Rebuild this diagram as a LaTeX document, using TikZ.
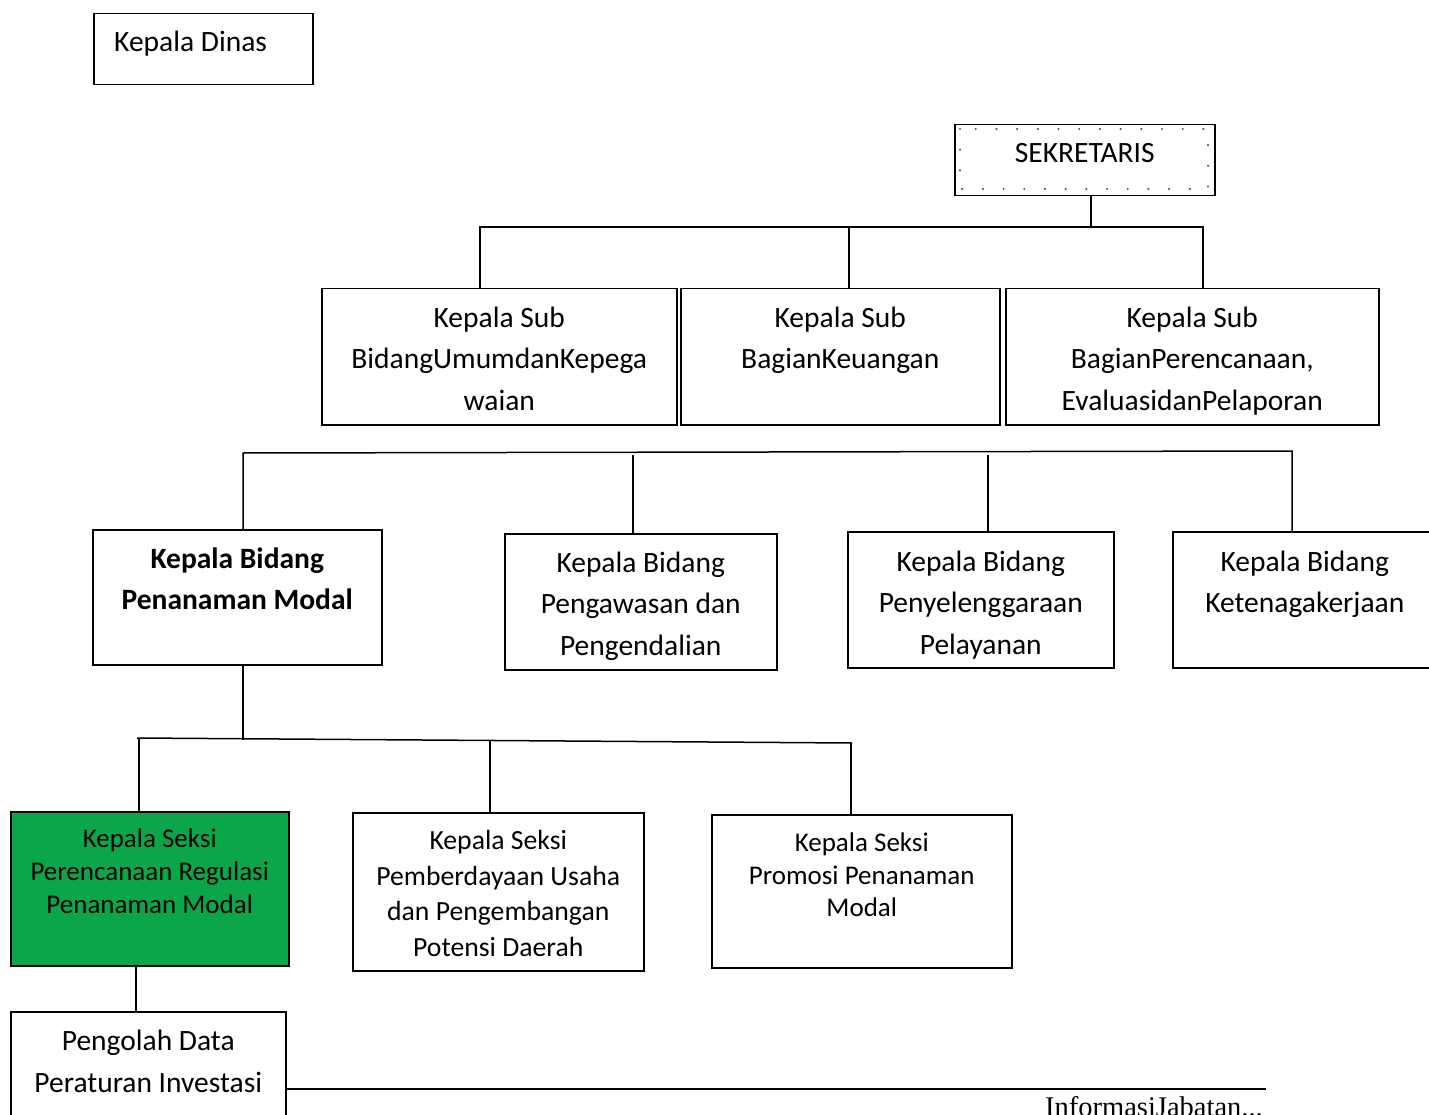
\documentclass[tikz,border=0pt]{standalone}
\usepackage{fontspec}
\setmainfont{Carlito}
\newfontfamily\jabfont{Liberation Serif}
\usetikzlibrary{positioning,calc}
\definecolor{seksigreen}{RGB}{12,166,74}

\tikzset{
  box/.style={rectangle, draw, line width=1.5pt, anchor=north west, inner sep=0pt},
  txt/.style={anchor=base, align=center, inner sep=0pt, font=\fontsize{29.5}{41.5}\selectfont},
  txtsmall/.style={txt, font=\fontsize{27}{33}\selectfont},
  conn/.style={line width=1.5pt}
}

\begin{document}
\begin{tikzpicture}[x=1pt, y=-1pt]
\useasboundingbox (0,0) rectangle (1429,1115);
\clip (0,0) rectangle (1429,1115);

% top
\node[box, minimum width=219pt, minimum height=71pt] (dinas) at (93,13) {};
\node[txt, anchor=base west] (dinastxt) at (114,52) {Kepala Dinas};

\node[box, minimum width=260pt, minimum height=71pt] (sek) at (954,124) {};
\draw[line width=2.4pt, line cap=round, black!65, dash pattern=on 0pt off 20.7pt]
  (960,129) rectangle (1208,189);
\node[txt] (sektxt) at ([yshift=-39pt]sek.north) {SEKRETARIS};

% sub bagian
\node[box, minimum width=355pt, minimum height=136pt] (subA) at (321,288) {};
\node[box, minimum width=319pt, minimum height=136pt] (subB) at (680,288) {};
\node[box, minimum width=373pt, minimum height=136pt] (subC) at (1005,288) {};
\node[txt] (subAtxt) at ([yshift=-122pt]subA.north) {Kepala Sub\\BidangUmumdanKepega\\waian};
\node[txt] (subBtxt) at ([yshift=-80.5pt]subB.north) {Kepala Sub\\BagianKeuangan};
\node[txt] (subCtxt) at ([yshift=-122pt]subC.north) {Kepala Sub\\BagianPerencanaan,\\EvaluasidanPelaporan};

\coordinate (b1l) at (480,227);
\coordinate (b1m) at (849,227);
\coordinate (b1r) at (1203,227);
\draw[conn] ([xshift=6pt]sek.south) -- ([xshift=6pt]sek.south |- b1m);
\draw[conn] (subA.north -| b1l) -- (b1l) -- (b1r) -- (subC.north -| b1r);
\draw[conn] (b1m) -- (subB.north -| b1m);

% bidang
\node[box, minimum width=289pt, minimum height=135pt] (bpm) at (92,529) {};
\node[box, minimum width=272pt, minimum height=136pt] (awas) at (504,533) {};
\node[box, minimum width=266pt, minimum height=136pt] (yan) at (847,531) {};
\node[box, minimum width=264pt, minimum height=136pt] (naker) at (1172,531) {};
\node[txt] (bpmtxt) at ([yshift=-80.5pt]bpm.north) {\textbf{Kepala Bidang}\\\textbf{Penanaman Modal}};
\node[txt] (awastxt) at ([yshift=-122pt]awas.north) {Kepala Bidang\\Pengawasan dan\\Pengendalian};
\node[txt] (yantxt) at ([yshift=-123pt]yan.north) {Kepala Bidang\\Penyelenggaraan\\Pelayanan};
\node[txt] (nakertxt) at ([yshift=-81.5pt]naker.north) {Kepala Bidang\\Ketenagakerjaan};

\coordinate (b2l) at (243,453);
\coordinate (b2r) at (1292,451);
\draw[conn] (bpm.north -| b2l) -- (b2l) -- (b2r) -- (naker.north -| b2r);
\draw[conn] (633,455) -- (awas.north -| 633,0);
\draw[conn] (988,455) -- (yan.north -| 988,0);

% seksi
\node[box, fill=seksigreen, minimum width=278pt, minimum height=154pt] (rencana) at (10,811) {};
\node[box, minimum width=291pt, minimum height=158pt] (daya) at (352,812) {};
\node[box, minimum width=300pt, minimum height=153pt] (promo) at (711,814) {};
\node[txtsmall] (rencanatxt) at ([yshift=-102.5pt]rencana.north) {Kepala Seksi\\Perencanaan Regulasi\\Penanaman Modal};
\node[txtsmall, font=\fontsize{27.7}{35.5}\selectfont] (dayatxt) at ([yshift=-144pt]daya.north) {Kepala Seksi\\Pemberdayaan Usaha\\dan Pengembangan\\Potensi Daerah};
\node[txtsmall, font=\fontsize{27}{32.5}\selectfont] (promotxt) at ([yshift=-102.5pt]promo.north) {Kepala Seksi\\Promosi Penanaman\\Modal};

\coordinate (b3l) at (137,738);
\coordinate (b3r) at (852,743);
\draw[conn] (bpm.south -| b2l) -- (243,740);
\draw[conn] (b3l) -- (b3r);
\draw[conn] (139,738) -- (rencana.north -| 139,0);
\draw[conn] (490,741) -- (daya.north -| 490,0);
\draw[conn] (851,743) -- (promo.north -| 851,0);

% pelaksana
\node[box, minimum width=275pt, minimum height=140pt] (olah) at (10,1011) {};
\node[txt] (olahtxt) at ([yshift=-81pt]olah.north) {Pengolah Data\\Peraturan Investasi};
\draw[conn] (rencana.south -| 136,0) -- (olah.north -| 136,0);

\coordinate (jab) at (1266,1089);
\draw[conn] (olah.east |- jab) -- (jab);
\node[anchor=base east, inner sep=0pt, font=\jabfont\fontsize{28.5}{32}\selectfont] (jabtxt) at (1263,1116) {InformasiJabatan...};
\end{tikzpicture}
\end{document}
